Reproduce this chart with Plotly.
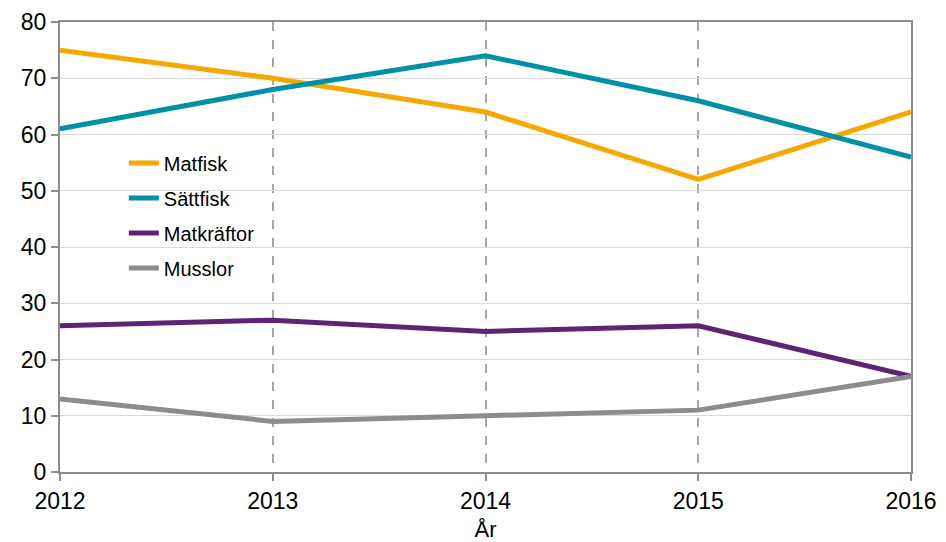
import plotly.graph_objects as go

years = [2012, 2013, 2014, 2015, 2016]
series_names = ["Matfisk", "Sättfisk", "Matkräftor", "Musslor"]
matfisk = [75, 70, 64, 52, 64]
sattfisk = [61, 68, 74, 66, 56]
matkraftor = [26, 27, 25, 26, 17]
musslor = [13, 9, 10, 11, 17]
y_ticks = [0, 10, 20, 30, 40, 50, 60, 70, 80]
x_title = "År"

colors = ["#F5A800", "#0090A8", "#5E2474", "#8C8C8C"]
values = [matfisk, sattfisk, matkraftor, musslor]

fig = go.Figure()
for name, vals, col in zip(series_names, values, colors):
    fig.add_trace(go.Scatter(
        x=years, y=vals, mode="lines", name=name, legendgroup=name,
        line=dict(color=col, width=5),
    ))

font_family = "Liberation Sans, Arial, sans-serif"
fig.update_layout(
    width=946, height=542,
    margin=dict(l=60, r=35, t=22, b=70),
    paper_bgcolor="white", plot_bgcolor="white",
    font=dict(family=font_family, color="black", size=21),
    showlegend=True,
    legend=dict(
        x=0.075, y=0.73, xanchor="left", yanchor="top",
        font=dict(size=20, family=font_family),
        bgcolor="rgba(0,0,0,0)",
        traceorder="grouped", tracegroupgap=6,
    ),
    xaxis=dict(
        range=[2012, 2016], tickvals=years, ticktext=[str(y) for y in years],
        showgrid=True, gridcolor="#A6A6A6", griddash="dash", gridwidth=1.5,
        showline=True, linecolor="#8C8C8C", linewidth=2, mirror=True,
        ticks="outside", ticklen=7, tickcolor="#8C8C8C", tickwidth=2,
        tickfont=dict(size=23),
        title=dict(text=x_title, font=dict(size=22), standoff=12),
        zeroline=False, automargin=False,
    ),
    yaxis=dict(
        range=[0, 80], tickvals=y_ticks,
        showgrid=True, gridcolor="#D9D9D9", gridwidth=1,
        showline=True, linecolor="#8C8C8C", linewidth=2, mirror=True,
        ticks="outside", ticklen=7, tickcolor="#8C8C8C", tickwidth=2,
        tickfont=dict(size=23),
        zeroline=False, automargin=False,
    ),
)

fig.write_html("out.html", config={"displayModeBar": False},
               post_script="document.body.style.margin='0';")
